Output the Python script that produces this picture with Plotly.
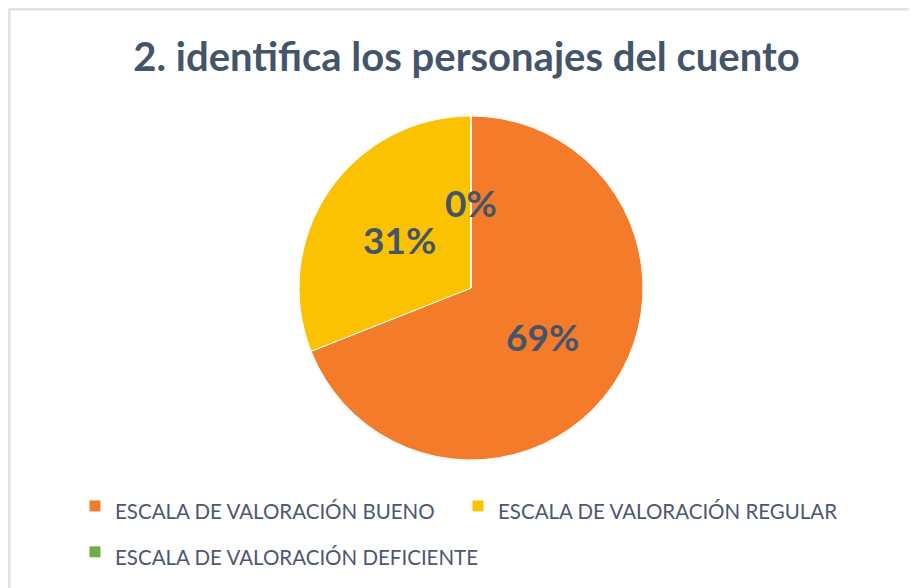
import math
import plotly.graph_objects as go

labels = ["ESCALA DE VALORACIÓN BUENO", "ESCALA DE VALORACIÓN REGULAR", "ESCALA DE VALORACIÓN DEFICIENTE"]
values = [69, 31, 0]
colors = ["#F47B2A", "#FBC202", "#70AD47"]

W, H = 917, 588
cx, cy, r = 463, 280, 172  # pie centre and radius in pixels

# legend rows are spaced by the legend font size, the text itself is drawn smaller
legend_labels = [f'<span style="font-size:20.5px">{t}</span>' for t in labels]

fig = go.Figure(go.Pie(
    labels=legend_labels,
    values=values,
    sort=False,
    direction="clockwise",
    rotation=0,
    marker=dict(colors=colors, line=dict(color="white", width=1)),
    textinfo="none",
    hoverinfo="percent",
    domain=dict(x=[(cx - r) / W, (cx + r) / W], y=[1 - (cy + r) / H, 1 - (cy - r) / H]),
))

# percentage labels placed at half radius along each slice's mid angle
total = sum(values)
start = 0
for v in values:
    frac = v / total
    mid = (start + frac / 2) * 2 * math.pi
    x = cx + 0.5 * r * math.sin(mid)
    y = cy - 0.5 * r * math.cos(mid)
    fig.add_annotation(x=x / W, y=1 - y / H, xref="paper", yref="paper",
                       xanchor="center", yanchor="middle",
                       text=f"{round(frac * 100)}%", showarrow=False,
                       font=dict(family="Lato", size=37, color="#44546A", weight="bold"))
    start += frac

fig.update_layout(
    width=W, height=H,
    margin=dict(l=0, r=0, t=0, b=0),
    paper_bgcolor="white",
    title=dict(text="<b>2. identifica los personajes del cuento</b>", x=0.5, xanchor="center",
               y=1 - 49 / H, yanchor="middle",
               font=dict(family="Lato", size=40, color="#44546A")),
    showlegend=True,
    legend=dict(orientation="h", x=67 / W, xanchor="left", y=1 - 470 / H, yanchor="top",
                font=dict(family="Lato", size=33, color="#4D5870"),
                entrywidth=338, entrywidthmode="pixels",
                traceorder="normal"),
    shapes=[
        dict(type="line", xref="paper", yref="paper", x0=1 / W, x1=1, y0=1 - 1 / H, y1=1 - 1 / H,
             line=dict(color="#DEE2EA", width=3)),
        dict(type="line", xref="paper", yref="paper", x0=1 / W, x1=1 / W, y0=0, y1=1 - 1 / H,
             line=dict(color="#DEE2EA", width=3)),
    ],
)

fig.write_html("out.html")
